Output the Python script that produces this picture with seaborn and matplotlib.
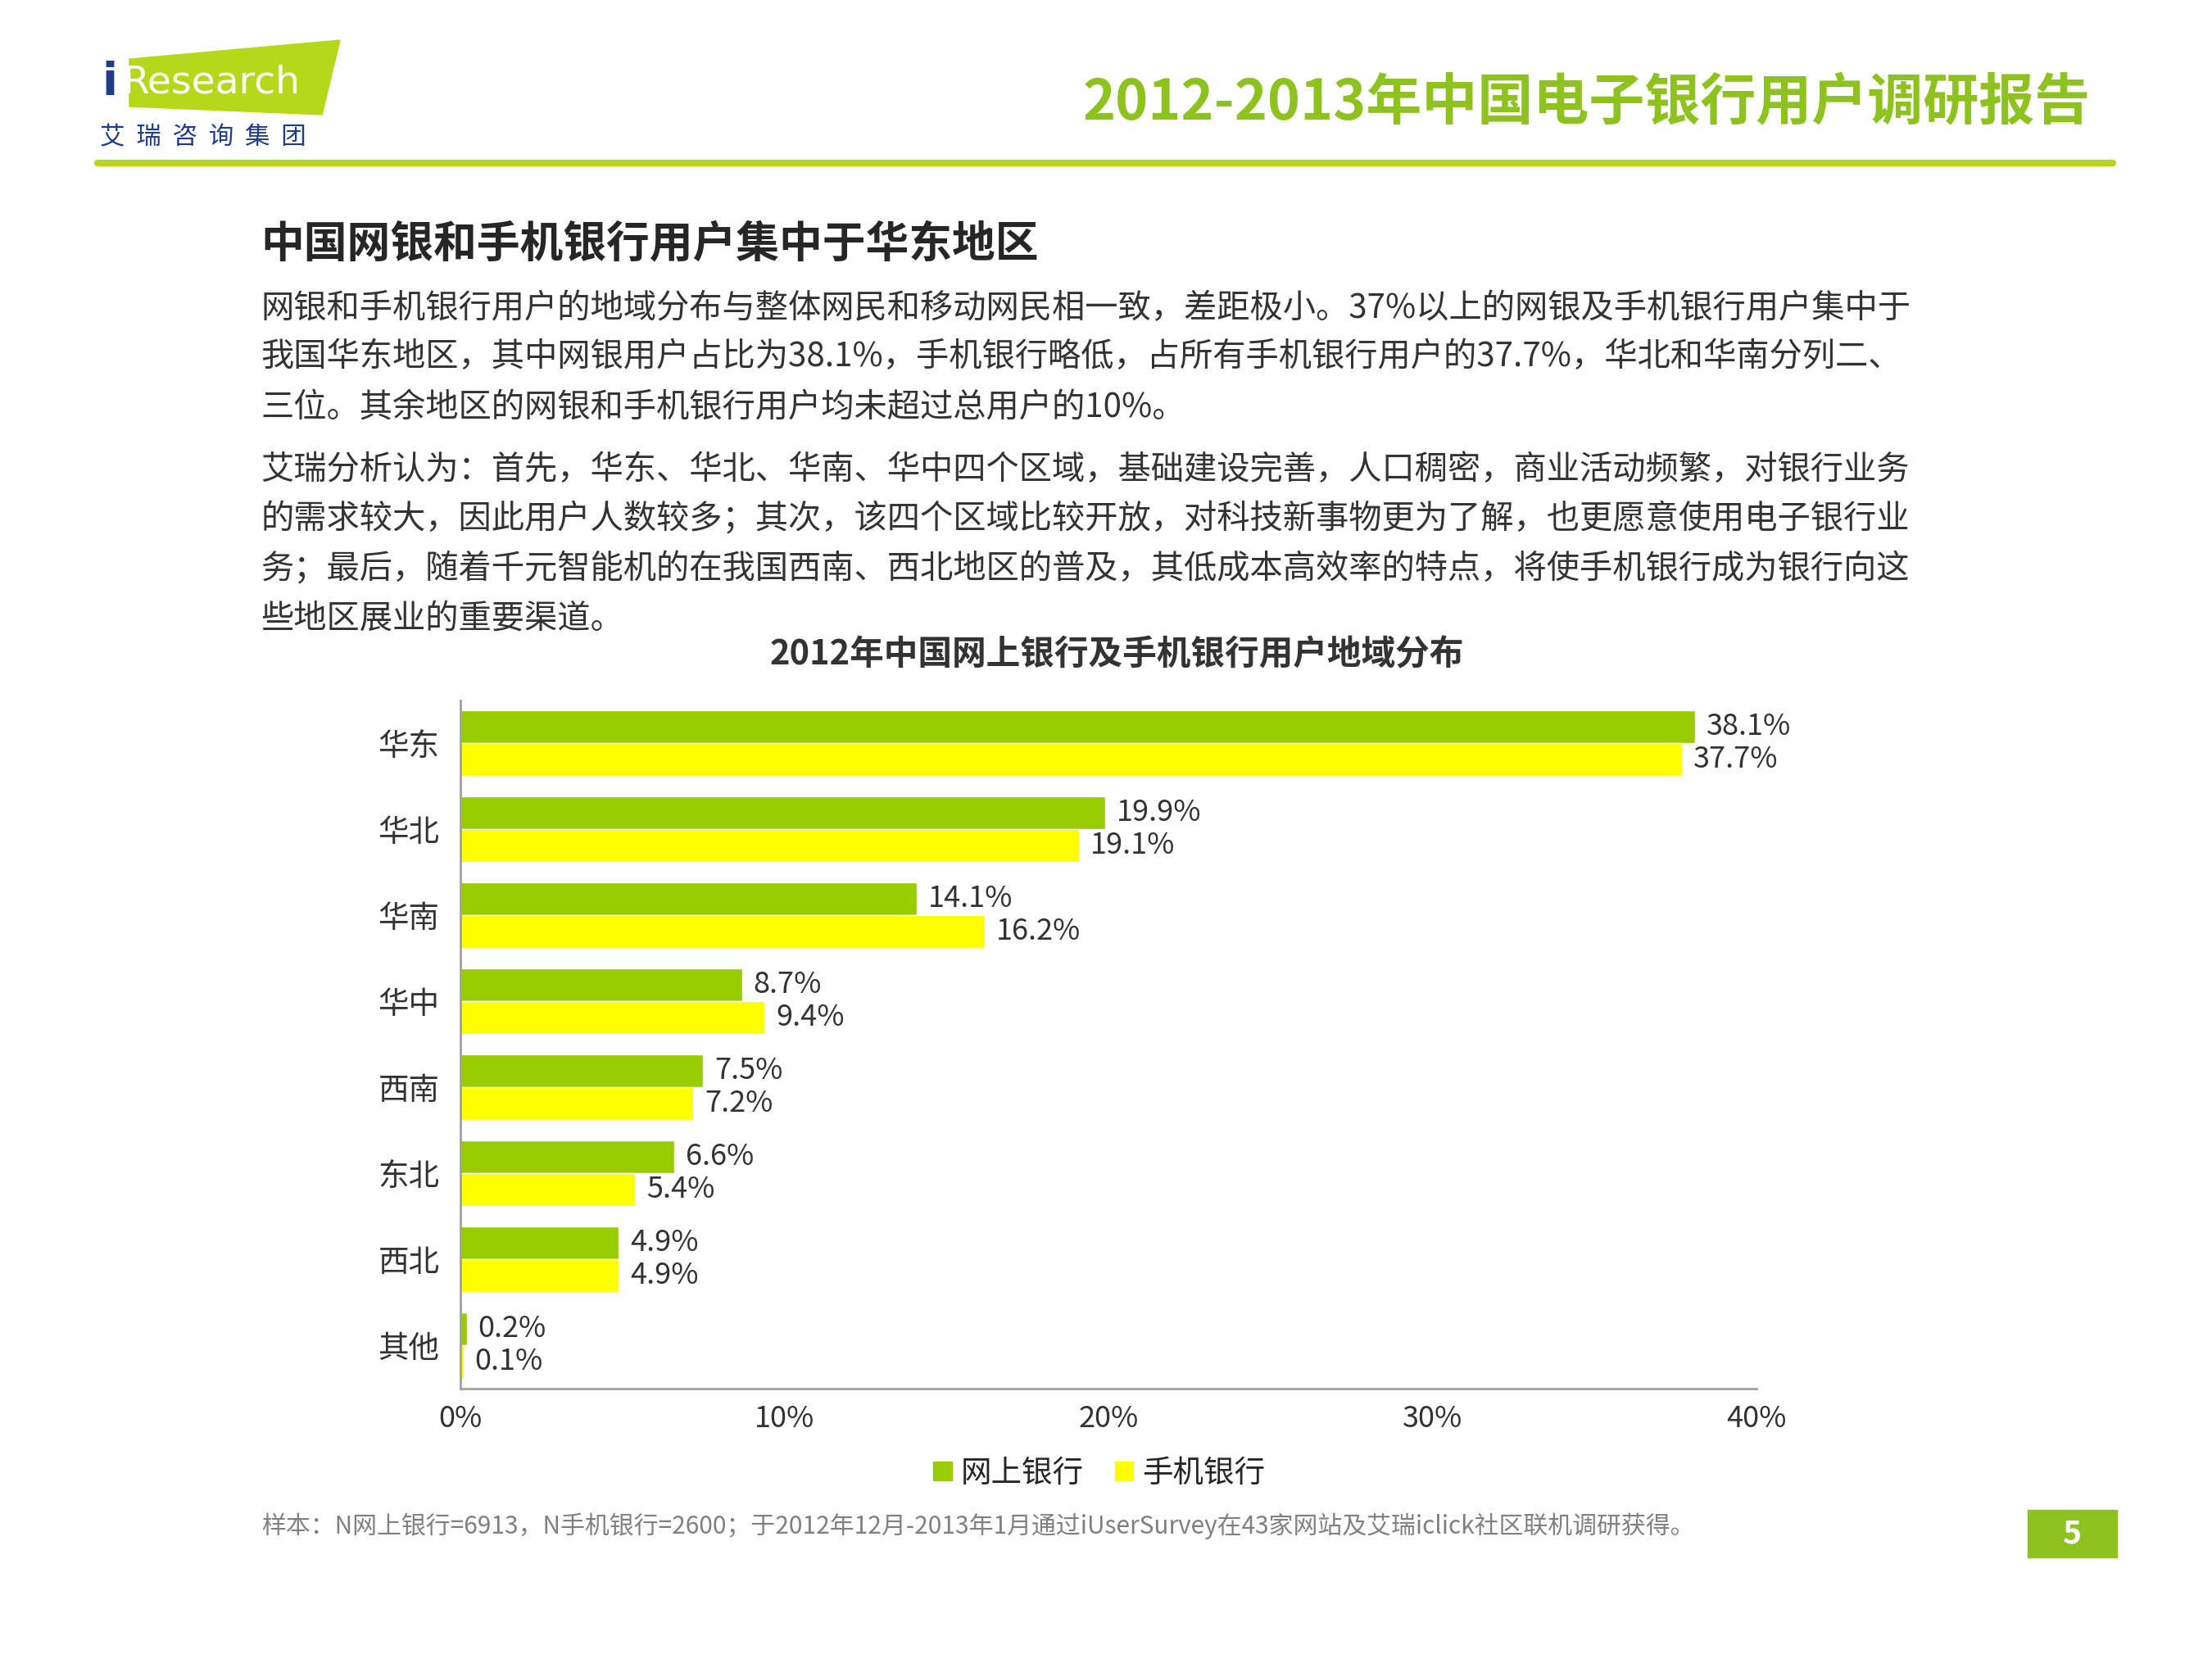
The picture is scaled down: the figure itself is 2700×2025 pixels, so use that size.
import pandas as pd
import matplotlib
matplotlib.use("Agg")
import matplotlib.pyplot as plt
import seaborn as sns
from matplotlib.patches import Polygon, Rectangle
from matplotlib.lines import Line2D

# --- dane ---
regions = ["华东", "华北", "华南", "华中", "西南", "东北", "西北", "其他"]
online_bank = [38.1, 19.9, 14.1, 8.7, 7.5, 6.6, 4.9, 0.2]
mobile_bank = [37.7, 19.1, 16.2, 9.4, 7.2, 5.4, 4.9, 0.1]
series_names = ["网上银行", "手机银行"]
x_ticks = [0, 10, 20, 30, 40]

GREEN = "#99CC00"
YELLOW = "#FFFF00"
TITLE_GREEN = "#8DC21F"

sns.set_theme(style="white")
plt.rcParams['font.family'] = ['Noto Sans CJK SC', 'DejaVu Sans']

df = pd.DataFrame({
    "region": regions * 2,
    "value": online_bank + mobile_bank,
    "series": [series_names[0]] * len(regions) + [series_names[1]] * len(regions),
})

fig = plt.figure(figsize=(27, 20.25), dpi=100)

# --- nagłówek ---
fig.patches.append(Polygon([[0.0585, 0.9644], [0.1537, 0.9758], [0.1456, 0.9309], [0.0585, 0.9358]],
                           closed=True, transform=fig.transFigure, color="#B5D91A", zorder=1))
fig.text(0.046, 0.950, "i", fontsize=40, color="#1F3C8C", fontweight="bold", va="center", family="DejaVu Sans")
fig.text(0.0555, 0.950, "Research", fontsize=34, color="white", va="center", family="DejaVu Sans")
fig.text(0.045, 0.917, "艾  瑞  咨  询  集  团", fontsize=22, color="#1F3C8C", va="center")
fig.lines.append(Line2D([0.044, 0.955], [0.9015, 0.9015], transform=fig.transFigure, color="#B5D91A", lw=6))
fig.text(0.945, 0.938, "2012-2013年中国电子银行用户调研报告", fontsize=49, color=TITLE_GREEN,
         fontweight="bold", ha="right", va="center")

fig.text(0.118, 0.853, "中国网银和手机银行用户集中于华东地区", fontsize=38, fontweight="bold", va="center")
body = [
    (0.814, "网银和手机银行用户的地域分布与整体网民和移动网民相一致，差距极小。37%以上的网银及手机银行用户集中于"),
    (0.785, "我国华东地区，其中网银用户占比为38.1%，手机银行略低，占所有手机银行用户的37.7%，华北和华南分列二、"),
    (0.754, "三位。其余地区的网银和手机银行用户均未超过总用户的10%。"),
    (0.717, "艾瑞分析认为：首先，华东、华北、华南、华中四个区域，基础建设完善，人口稠密，商业活动频繁，对银行业务"),
    (0.687, "的需求较大，因此用户人数较多；其次，该四个区域比较开放，对科技新事物更为了解，也更愿意使用电子银行业"),
    (0.657, "务；最后，随着千元智能机的在我国西南、西北地区的普及，其低成本高效率的特点，将使手机银行成为银行向这"),
    (0.627, "些地区展业的重要渠道。"),
]
for y, t in body:
    fig.text(0.118, y, t, fontsize=29, color="#333333", va="center")

fig.text(0.505, 0.605, "2012年中国网上银行及手机银行用户地域分布", fontsize=30, fontweight="bold",
         color="#333333", ha="center", va="center")

# --- wykres ---
ax = fig.add_axes([0.208, 0.163, 0.586, 0.415])
sns.barplot(data=df, y="region", x="value", hue="series", orient="h",
            palette=[GREEN, YELLOW], saturation=1, width=0.76, ax=ax, legend=False)
ax.set_xlim(0, 40)
ax.set_ylim(7.5, -0.5)
ax.set_xticks(x_ticks)
ax.set_xticklabels([f"{v}%" for v in x_ticks], fontsize=26, color="#333333")
ax.tick_params(axis="x", pad=14, length=0)
ax.tick_params(axis="y", labelsize=27, labelcolor="#333333", pad=18, length=0)
ax.set_xlabel("")
ax.set_ylabel("")
for s in ["top", "right"]:
    ax.spines[s].set_visible(False)
for s in ["left", "bottom"]:
    ax.spines[s].set_color("#A0A0A0")
    ax.spines[s].set_linewidth(2)

for cont in ax.containers:
    ax.bar_label(cont, labels=[f"{v:.1f}%" for v in cont.datavalues], padding=10,
                 fontsize=26, color="#333333")

# legenda
handles = [Rectangle((0, 0), 1, 1, color=GREEN), Rectangle((0, 0), 1, 1, color=YELLOW)]
fig.legend(handles, series_names, loc="center", bbox_to_anchor=(0.497, 0.112), ncol=2, frameon=False,
           fontsize=27, handlelength=0.6, handleheight=0.6, handletextpad=0.3, columnspacing=1.0)

fig.text(0.118, 0.080, "样本：N网上银行=6913，N手机银行=2600；于2012年12月-2013年1月通过iUserSurvey在43家网站及艾瑞iclick社区联机调研获得。",
         fontsize=21.5, color="#808080", va="center")
fig.patches.append(Rectangle((0.9165, 0.061), 0.0405, 0.029, transform=fig.transFigure, color="#8DC21F"))
fig.text(0.9367, 0.0755, "5", fontsize=28, color="white", fontweight="bold", ha="center", va="center")

fig.savefig("out.png", dpi=100)
